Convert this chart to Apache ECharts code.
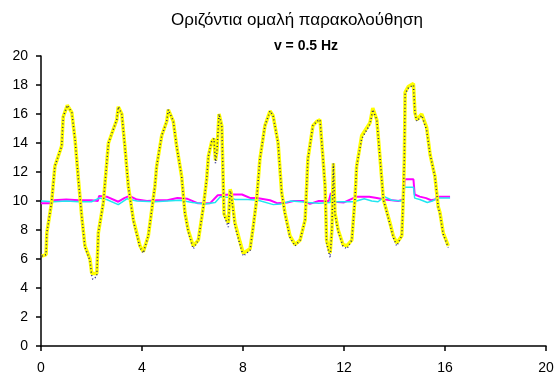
<!DOCTYPE html>
<html>
<head>
<meta charset="utf-8">
<script src="https://cdn.jsdelivr.net/npm/echarts@6/dist/echarts.min.js"></script>
<style>
  html, body { margin: 0; padding: 0; background: #fff; }
  #chart { width: 558px; height: 378px; }
</style>
</head>
<body>
<div id="chart"></div>
<script>
// Horizontal eye position (yellow) and its raw trace (navy dots)
const horizT = [0.03, 0.2, 0.23, 0.42, 0.55, 0.82, 0.88, 1.04, 1.22, 1.35, 1.48, 1.61, 1.74, 1.94, 2.01, 2.05, 2.21, 2.27, 2.47, 2.67, 3.0, 3.06, 3.2, 3.33, 3.46, 3.66, 3.92, 4.05, 4.25, 4.51, 4.58, 4.78, 4.98, 5.04, 5.24, 5.37, 5.57, 5.7, 5.83, 6.03, 6.23, 6.43, 6.56, 6.63, 6.76, 6.85, 6.91, 6.97, 7.05, 7.16, 7.25, 7.42, 7.49, 7.53, 7.68, 7.88, 8.01, 8.08, 8.28, 8.41, 8.54, 8.67, 8.87, 9.07, 9.19, 9.39, 9.53, 9.66, 9.86, 10.06, 10.26, 10.46, 10.52, 10.57, 10.77, 10.93, 11.05, 11.17, 11.25, 11.31, 11.45, 11.52, 11.58, 11.64, 11.77, 11.96, 12.11, 12.31, 12.44, 12.5, 12.7, 13.03, 13.14, 13.3, 13.43, 13.56, 13.82, 13.95, 14.09, 14.29, 14.35, 14.39, 14.42, 14.55, 14.75, 14.81, 14.88, 15.08, 15.27, 15.41, 15.6, 15.73, 15.8, 15.93, 16.13];
const horizY = [6.2, 6.3, 7.8, 9.9, 12.4, 13.8, 15.8, 16.6, 16.1, 14.2, 11.5, 9.0, 6.9, 6.0, 5.0, 4.9, 5.0, 7.8, 9.9, 14.0, 15.6, 16.5, 16.0, 13.6, 11.0, 8.7, 6.9, 6.5, 7.6, 11.0, 12.4, 14.5, 15.5, 16.3, 15.5, 13.8, 11.7, 9.2, 8.0, 6.9, 7.3, 9.6, 11.5, 13.1, 14.1, 14.3, 12.8, 13.5, 16.0, 15.2, 9.1, 8.5, 10.8, 10.6, 8.5, 7.2, 6.4, 6.3, 6.7, 8.3, 10.1, 12.9, 15.2, 16.2, 15.9, 14.0, 10.6, 9.2, 7.6, 7.0, 7.3, 8.7, 11.0, 12.9, 15.2, 15.5, 15.6, 12.9, 11.0, 7.3, 6.4, 8.0, 12.6, 9.2, 8.0, 7.0, 6.9, 7.3, 10.3, 12.4, 14.5, 15.4, 16.4, 15.6, 12.9, 10.1, 8.5, 7.6, 7.1, 7.6, 10.3, 12.9, 17.5, 17.9, 18.1, 16.1, 15.6, 16.0, 15.1, 13.2, 11.7, 9.6, 9.2, 7.8, 6.9];
const rawY = [6.2, 6.3, 7.8, 9.9, 12.4, 13.8, 15.8, 16.6, 16.1, 14.2, 11.5, 9.0, 6.8, 5.9, 4.8, 4.6, 4.8, 7.8, 9.9, 14.0, 15.6, 16.5, 16.0, 13.6, 11.0, 8.6, 6.8, 6.4, 7.6, 11.0, 12.4, 14.5, 15.5, 16.3, 15.5, 13.8, 11.7, 9.1, 7.9, 6.7, 7.3, 9.6, 11.5, 13.1, 14.1, 14.3, 12.6, 13.5, 16.0, 15.2, 9.0, 8.2, 10.7, 10.5, 8.3, 7.0, 6.2, 6.1, 6.6, 8.3, 10.1, 12.9, 15.2, 16.2, 15.9, 14.0, 10.6, 9.1, 7.5, 6.9, 7.3, 8.7, 11.0, 12.9, 15.2, 15.5, 15.6, 12.9, 11.0, 7.1, 6.1, 8.0, 12.6, 9.1, 7.9, 6.9, 6.7, 7.3, 10.3, 12.4, 14.3, 15.3, 16.3, 15.6, 12.9, 10.1, 8.4, 7.5, 6.9, 7.6, 10.3, 12.9, 17.4, 17.8, 18.0, 16.1, 15.5, 15.9, 14.9, 13.2, 11.7, 9.6, 9.1, 7.7, 6.8];

// Vertical eye position, two channels (magenta, cyan)
const vertAT = [0, 0.4, 0.5, 1.0, 1.5, 2.0, 2.25, 2.3, 2.6, 3.06, 3.3, 3.5, 3.8, 4.2, 4.6, 5.0, 5.4, 5.8, 6.2, 6.7, 7.0, 7.5, 7.96, 8.3, 8.55, 9.07, 9.35, 9.75, 10.0, 10.4, 10.65, 11.0, 11.4, 11.48, 11.55, 11.62, 12.0, 12.5, 13.0, 13.3, 13.6, 13.9, 14.15, 14.36, 14.4, 14.75, 14.8, 15.0, 15.25, 15.45, 15.6, 15.7, 16.2];
const vertAY = [9.85, 9.85, 10.05, 10.1, 10.05, 10.05, 10.0, 10.35, 10.3, 9.95, 10.2, 10.35, 10.1, 10.0, 10.05, 10.05, 10.2, 10.15, 9.85, 9.85, 10.4, 10.45, 10.45, 10.2, 10.2, 10.05, 9.85, 9.9, 10.0, 10.0, 9.8, 10.0, 10.0, 10.55, 10.5, 9.95, 9.9, 10.3, 10.3, 10.2, 10.1, 10.05, 10.0, 10.1, 11.5, 11.5, 10.45, 10.3, 10.2, 10.05, 10.1, 10.3, 10.3];
const vertBT = [0, 0.5, 1.0, 1.5, 2.0, 2.3, 2.6, 3.06, 3.4, 3.8, 4.5, 5.0, 5.5, 6.0, 6.5, 6.9, 7.1, 7.4, 7.7, 8.2, 8.6, 9.2, 9.5, 9.9, 10.3, 10.6, 11.0, 11.45, 11.5, 11.55, 11.62, 12.4, 12.8, 13.1, 13.35, 13.6, 13.9, 14.3, 14.36, 14.4, 14.75, 14.8, 15.0, 15.3, 15.5, 15.7, 16.2];
const vertBY = [10.0, 9.95, 10.0, 9.95, 9.95, 10.2, 10.1, 9.75, 10.15, 10.0, 9.95, 10.0, 10.05, 9.9, 9.8, 9.9, 10.3, 10.25, 10.1, 10.1, 10.05, 9.75, 9.8, 10.0, 9.95, 9.9, 9.85, 9.9, 10.45, 10.4, 9.95, 9.95, 10.15, 10.0, 9.95, 10.3, 10.05, 10.0, 10.0, 10.95, 10.95, 10.2, 10.1, 9.9, 10.0, 10.2, 10.2];

// Axis ticks
const xTicks = { min: 0, max: 20, interval: 4 };
const yTicks = { min: 0, max: 20, interval: 2 };

const zip = (t, y) => t.map((v, i) => [v, y[i]]);

const chart = echarts.init(document.getElementById('chart'), null, { renderer: 'canvas' });
const font = 'Liberation Sans, Arial, sans-serif';
const axisCommon = {
  type: 'value',
  splitLine: { show: false },
  axisLine: { show: true, onZero: false, lineStyle: { color: '#000', width: 1.5 } },
  axisTick: { show: true, inside: false, length: 5, lineStyle: { color: '#000', width: 1.5 } },
  axisLabel: { color: '#000', fontFamily: font, fontSize: 14 }
};

chart.setOption({
  animation: false,
  backgroundColor: '#fff',
  title: [
    {
      text: 'Οριζόντια ομαλή παρακολούθηση',
      left: 292, top: 7, textAlign: 'center',
      textStyle: { color: '#000', fontFamily: font, fontSize: 17, fontWeight: 'normal' }
    },
    {
      text: 'v = 0.5 Hz',
      left: 301, top: 34, textAlign: 'center',
      textStyle: { color: '#000', fontFamily: font, fontSize: 14, fontWeight: 'bold' }
    }
  ],
  grid: { left: 41, right: 12, top: 56, bottom: 32, containLabel: false },
  xAxis: Object.assign({}, axisCommon, xTicks, {
    axisLabel: Object.assign({}, axisCommon.axisLabel, { margin: 15 })
  }),
  yAxis: Object.assign({}, axisCommon, yTicks, {
    axisLabel: Object.assign({}, axisCommon.axisLabel, { margin: 13 })
  }),
  series: [
    {
      type: 'line', data: zip(vertAT, vertAY), symbol: 'none',
      lineStyle: { color: '#ff00ff', width: 2 }, z: 2
    },
    {
      type: 'line', data: zip(vertBT, vertBY), symbol: 'none',
      lineStyle: { color: '#22e6f0', width: 1.5 }, z: 3
    },
    {
      type: 'line', data: zip(horizT, horizY), symbol: 'none',
      lineStyle: { color: '#ffff00', width: 3.5 }, z: 4
    },
    {
      type: 'line', data: zip(horizT, rawY), symbol: 'none',
      lineStyle: { color: '#000080', width: 1.5, type: [1, 2.5], opacity: 0.85 }, z: 5
    }
  ]
});
</script>
</body>
</html>
